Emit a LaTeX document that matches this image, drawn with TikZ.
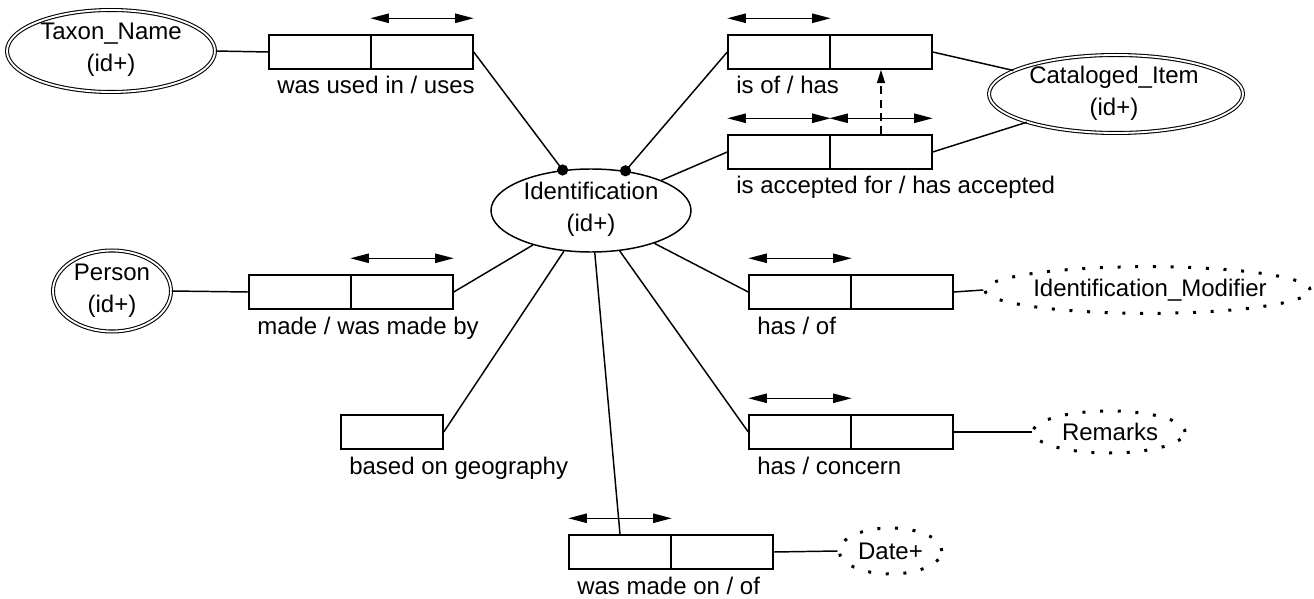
\documentclass[tikz,border=0pt]{standalone}
\usepackage{fontspec}
\setmainfont{Liberation Sans}
\usetikzlibrary{arrows.meta,shapes.geometric}
\begin{document}
\begin{tikzpicture}[x=0.75pt,y=-0.75pt,
  every node/.style={font=\fontsize{18}{24}\selectfont},
  half/.style={draw, line width=1.1pt, minimum width=76.5pt, minimum height=25.5pt, inner sep=0pt},
  ent/.style={ellipse, draw, double, line width=0.8pt, double distance=1.4pt, inner sep=0pt},
  wk/.style={ellipse, draw, line width=1.1pt, inner sep=0pt},
  att/.style={ellipse, draw, line width=2.25pt, dash pattern=on 2.25pt off 11pt, inner sep=0pt},
  txt/.style={align=center, inner sep=0pt},
  lab/.style={anchor=base west, inner sep=0pt},
  conn/.style={line width=1.1pt},
  rel/.style={line width=1.1pt, {Triangle[length=14pt,width=7pt]}-{Triangle[length=14pt,width=7pt]}},
  dep/.style={line width=1.1pt, dash pattern=on 6pt off 4pt, -{Triangle[length=10pt,width=6pt]}},
]
\useasboundingbox (0,0) rectangle (1314,599);

% entities
\node[ent, minimum width=156pt, minimum height=61.5pt] (taxon) at (111,51) {};
\node[txt] (taxonT) at (111,50) {Taxon\_Name\\(id+)};
\node[ent, minimum width=88.5pt, minimum height=60.75pt] (person) at (112,291) {};
\node[txt] (personT) at (person) {Person\\(id+)};
\node[ent, minimum width=190.5pt, minimum height=58.5pt] (cat) at (1116,94) {};
\node[txt] (catT) at (1114,93) {Cataloged\_Item\\(id+)};
\node[wk, minimum width=150pt, minimum height=62.25pt] (ident) at (591,210.5) {};
\node[txt] (identT) at (591,209.5) {Identification\\(id+)};

% attributes
\node[att, minimum width=244pt, minimum height=35pt] (mod) at (1147.5,290) {};
\node[txt] (modT) at (1150,290) {Identification\_Modifier};
\node[att, minimum width=114pt, minimum height=31.5pt] (rem) at (1109,432) {};
\node[txt] (remT) at (1110,432) {Remarks};
\node[att, minimum width=77pt, minimum height=34.5pt] (date) at (890.5,551) {};
\node[txt] (dateT) at (890.5,551) {Date+};

% relationship boxes
\node[half] (u1) at (320,52) {};  \node[half] (u2) at (422,52) {};
\node[half] (i1) at (779,52) {};  \node[half] (i2) at (881,52) {};
\node[half] (a1) at (779,152) {}; \node[half] (a2) at (881,152) {};
\node[half] (m1) at (300,292) {}; \node[half] (m2) at (402,292) {};
\node[half] (h1) at (800,292) {}; \node[half] (h2) at (902,292) {};
\node[half] (g1) at (392,432) {};
\node[half] (c1) at (800,432) {}; \node[half] (c2) at (902,432) {};
\node[half] (d1) at (620,552) {}; \node[half] (d2) at (722,552) {};

% labels
\node[lab] (uL) at (277,94) {was used in / uses};
\node[lab] (iL) at (736,94) {is of / has};
\node[lab] (aL) at (736,194) {is accepted for / has accepted};
\node[lab] (mL) at (257,334) {made / was made by};
\node[lab] (hL) at (757,334) {has / of};
\node[lab] (gL) at (349,474) {based on geography};
\node[lab] (cL) at (757,474) {has / concern};
\node[lab] (dL) at (577,594) {was made on / of};

% direction arrows
\draw[rel] ([yshift=12pt]u2.north west) -- ([yshift=12pt]u2.north east);
\draw[rel] ([yshift=12pt]i1.north west) -- ([yshift=12pt]i1.north east);
\draw[rel] ([yshift=12pt]a1.north west) -- ([yshift=12pt]a1.north east);
\draw[rel] ([yshift=12pt]a2.north west) -- ([yshift=12pt]a2.north east);
\draw[rel] ([yshift=12pt]m2.north west) -- ([yshift=12pt]m2.north east);
\draw[rel] ([yshift=12pt]h1.north west) -- ([yshift=12pt]h1.north east);
\draw[rel] ([yshift=12pt]c1.north west) -- ([yshift=12pt]c1.north east);
\draw[rel] ([yshift=12pt]d1.north west) -- ([yshift=12pt]d1.north east);

% dependency
\draw[dep] (a2.north) -- (i2.south);

% connectors
\coordinate (dot1) at (ident.125.7);
\coordinate (dot2) at (ident.49);
\draw[conn] (taxon.east) -- (u1.west);
\draw[conn] (u2.east) -- (dot1);
\draw[conn] (dot2) -- (i1.west);
\draw[conn] (ident) -- (a1.west);
\draw[conn] (i2.east) -- (cat);
\draw[conn] (a2.east) -- (cat);
\draw[conn] (person.east) -- (m1.west);
\draw[conn] (ident) -- (m2.east);
\draw[conn] (ident) -- (h1.west);
\draw[conn] (h2.east) -- (mod.west);
\draw[conn] (ident) -- (g1.east);
\draw[conn] (ident) -- (c1.west);
\draw[conn] (c2.east) -- (rem.west);
\draw[conn] (ident) -- (d1.north);
\draw[conn] (d2.east) -- (date.west);
\fill (dot1) circle (4.2pt);
\fill (dot2) circle (4.2pt);
\end{tikzpicture}
\end{document}
